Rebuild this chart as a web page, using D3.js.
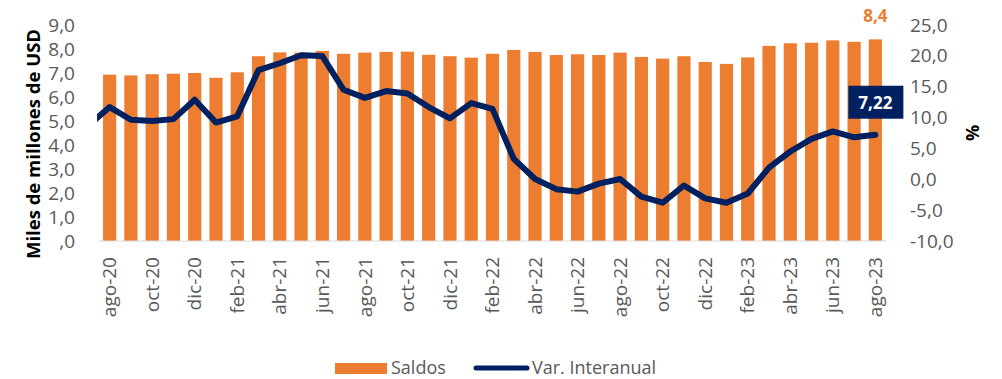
<!DOCTYPE html>
<html>
<head>
<meta charset="utf-8">
<script src="https://cdn.jsdelivr.net/npm/d3@7"></script>
<style>
  body { margin: 0; background: #fff; }
  svg { display: block; }
  text { font-family: "Open Sans", sans-serif; }
</style>
</head>
<body>
<svg id="chart" width="1002" height="379"></svg>
<script>
// Monthly balances (thousands of millions USD) and year-on-year change (%)
const months = [
  "ago-20","sep-20","oct-20","nov-20","dic-20","ene-21","feb-21","mar-21","abr-21","may-21",
  "jun-21","jul-21","ago-21","sep-21","oct-21","nov-21","dic-21","ene-22","feb-22","mar-22",
  "abr-22","may-22","jun-22","jul-22","ago-22","sep-22","oct-22","nov-22","dic-22","ene-23",
  "feb-23","mar-23","abr-23","may-23","jun-23","jul-23","ago-23"
];
const saldos = [
  6.93, 6.90, 6.95, 6.97, 7.00, 6.80, 7.03, 7.70, 7.86, 7.85,
  7.92, 7.80, 7.85, 7.88, 7.89, 7.76, 7.70, 7.64, 7.80, 7.96,
  7.88, 7.75, 7.78, 7.75, 7.85, 7.67, 7.60, 7.70, 7.46, 7.38,
  7.65, 8.13, 8.24, 8.26, 8.36, 8.30, 8.40
];
const varInteranual = [
  11.7, 9.65, 9.43, 9.75, 12.9, 9.2, 10.2, 17.7, 18.8, 20.1,
  19.96, 14.5, 13.2, 14.3, 13.9, 11.7, 9.86, 12.35, 11.4, 3.3,
  0.05, -1.6, -2.0, -0.7, 0.05, -2.8, -3.8, -1.0, -3.1, -3.8,
  -2.3, 1.9, 4.5, 6.55, 7.75, 6.8, 7.22
];
// jul-20 value, only its segment into the first month shows inside the plot
const varPrevMonth = 8.7;
const xTickMonths = months.filter((m, i) => i % 2 === 0);
const leftTicks = [0, 1, 2, 3, 4, 5, 6, 7, 8, 9];
const rightTicks = [-10, -5, 0, 5, 10, 15, 20, 25];
const legendItems = ["Saldos", "Var. Interanual"];

const ORANGE = "#ED7D31";
const NAVY = "#002060";
const GREY_TEXT = "#595959";

const svg = d3.select("#chart");
const plot = { left: 99, right: 886, top: 25, bottom: 241 };

const x = d3.scaleBand().domain(months)
  .range([plot.left, plot.right]).paddingInner(0.38).paddingOuter(0.19);
const yL = d3.scaleLinear().domain([0, 9]).range([plot.bottom, plot.top]);
const yR = d3.scaleLinear().domain([-10, 25]).range([plot.bottom, plot.top]);
const cx = m => x(m) + x.bandwidth() / 2;

const fmt = v => v === 0 ? ",0" : d3.format(".1f")(v).replace(".", ",");
const fmtR = v => d3.format(".1f")(v).replace(".", ",").replace("−", "-");

// Bars
svg.append("g").selectAll("rect").data(months).join("rect")
  .attr("x", m => x(m))
  .attr("width", x.bandwidth())
  .attr("y", (m, i) => yL(saldos[i]))
  .attr("height", (m, i) => yL(0) - yL(saldos[i]))
  .attr("fill", ORANGE);

// Baseline
svg.append("line")
  .attr("x1", plot.left).attr("x2", plot.right)
  .attr("y1", yL(0)).attr("y2", yL(0))
  .attr("stroke", "#d9d9d9").attr("stroke-width", 1);

// Left axis
const axL = svg.append("g").attr("transform", `translate(${plot.left - 21},0)`)
  .call(d3.axisLeft(yL).tickValues(leftTicks).tickFormat(fmt).tickSize(0));
axL.select(".domain").remove();
axL.selectAll("text").attr("font-size", 19).attr("fill", GREY_TEXT).attr("dx", 0);

// Right axis
const axR = svg.append("g").attr("transform", `translate(${plot.right + 21},0)`)
  .call(d3.axisRight(yR).tickValues(rightTicks).tickFormat(fmtR).tickSize(0));
axR.select(".domain").remove();
axR.selectAll("text").attr("font-size", 19).attr("fill", GREY_TEXT).attr("dx", 0);

// Bottom axis, rotated labels
const axB = svg.append("g").attr("transform", `translate(0,${plot.bottom})`)
  .call(d3.axisBottom(x).tickValues(xTickMonths).tickSize(0));
axB.select(".domain").remove();
axB.selectAll("text")
  .attr("font-size", 19).attr("fill", GREY_TEXT)
  .attr("text-anchor", "end")
  .attr("transform", "rotate(-90)")
  .attr("x", -16).attr("y", 0).attr("dy", "0.35em");

// Line clipped to plot area
svg.append("clipPath").attr("id", "plotClip").append("rect")
  .attr("x", plot.left - 2).attr("y", 0)
  .attr("width", plot.right - plot.left + 10).attr("height", 300);

const step = x.step();
const linePts = [[cx(months[0]) - step, yR(varPrevMonth)]]
  .concat(months.map((m, i) => [cx(m), yR(varInteranual[i])]));
svg.append("path")
  .attr("clip-path", "url(#plotClip)")
  .attr("d", d3.line()(linePts))
  .attr("fill", "none").attr("stroke", NAVY)
  .attr("stroke-width", 6).attr("stroke-linejoin", "round").attr("stroke-linecap", "round");

// Value labels on the last month
const last = months[months.length - 1];
const lastSaldo = saldos[saldos.length - 1];
const lastVar = varInteranual[varInteranual.length - 1];
svg.append("text")
  .attr("x", cx(last)).attr("y", yL(lastSaldo) - 17)
  .attr("text-anchor", "middle")
  .attr("font-size", 17).attr("font-weight", "bold").attr("fill", ORANGE)
  .text(fmt(lastSaldo));

const lblG = svg.append("g").attr("transform", `translate(${cx(last)},${yR(lastVar) - 32})`);
lblG.append("rect").attr("x", -27).attr("y", -17).attr("width", 55).attr("height", 33).attr("fill", NAVY);
lblG.append("text").attr("x", 0).attr("y", 0).attr("dy", "0.35em")
  .attr("text-anchor", "middle").attr("font-size", 17).attr("font-weight", "bold").attr("fill", "#fff")
  .text(d3.format(".2f")(lastVar).replace(".", ","));

// Axis titles
svg.append("text")
  .attr("transform", `translate(40,144) rotate(-90)`)
  .attr("text-anchor", "middle").attr("font-size", 18.5).attr("font-weight", "bold").attr("fill", "#000")
  .text("Miles de millones de USD");
svg.append("text")
  .attr("transform", `translate(979,133) rotate(-90)`)
  .attr("text-anchor", "middle").attr("font-size", 18).attr("font-weight", "bold").attr("fill", "#000")
  .text("%");

// Legend
const lg = svg.append("g").attr("transform", "translate(0,368)");
lg.append("rect").attr("x", 335).attr("y", -5).attr("width", 52).attr("height", 11).attr("fill", ORANGE);
lg.append("text").attr("x", 391).attr("y", 0).attr("dy", "0.35em")
  .attr("font-size", 18).attr("fill", GREY_TEXT).text(legendItems[0]);
lg.append("line").attr("x1", 476).attr("x2", 527).attr("y1", 0).attr("y2", 0)
  .attr("stroke", NAVY).attr("stroke-width", 5).attr("stroke-linecap", "round");
lg.append("text").attr("x", 532).attr("y", 0).attr("dy", "0.35em")
  .attr("font-size", 18).attr("fill", GREY_TEXT).text(legendItems[1]);
</script>
</body>
</html>
